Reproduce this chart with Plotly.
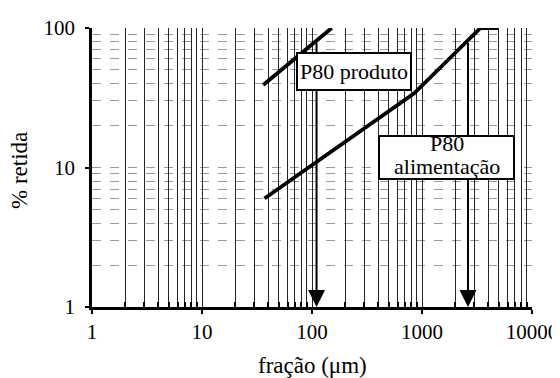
import math
import plotly.graph_objects as go

# ---- data ----
produto_x = [36, 151]          # fração (µm)
produto_y = [39, 100]          # % retida
alimentacao_x = [37, 850, 3400, 5000]
alimentacao_y = [6, 34, 100, 100]

p80_produto = 110
p80_alimentacao = 2620
p80_level = 80

x_major = [1, 10, 100, 1000, 10000]
x_major_text = ["1", "10", "100", "1000", "10000"]
y_major = [1, 10, 100]
y_major_text = ["1", "10", "100"]
x_minor = [m * d for d in (1, 10, 100, 1000) for m in range(2, 10)]
y_minor = [m * d for d in (1, 10) for m in range(2, 10)]

FONT = '"Liberation Serif", "Times New Roman", serif'

fig = go.Figure()
fig.add_trace(go.Scatter(x=produto_x, y=produto_y, mode="lines",
                         line=dict(color="black", width=3.8), showlegend=False))
fig.add_trace(go.Scatter(x=alimentacao_x, y=alimentacao_y, mode="lines",
                         line=dict(color="black", width=3.8), showlegend=False))

L = math.log10
annotations = []
for px in (p80_produto, p80_alimentacao):
    annotations.append(dict(
        x=L(px), y=L(1), ax=L(px), ay=L(p80_level),
        xref="x", yref="y", axref="x", ayref="y",
        text="", showarrow=True, arrowhead=2, arrowsize=1.7,
        arrowwidth=2, arrowcolor="black", standoff=0))

# "P80 produto" label box
annotations.append(dict(
    x=L(243), y=L(48.5), xref="x", yref="y", text="P80 produto",
    showarrow=False, bgcolor="white", bordercolor="black", borderwidth=2,
    borderpad=0, width=112, height=35,
    font=dict(family=FONT, size=22, color="black")))

# "P80 / alimentação" label box (frame + two tightly spaced lines)
box2_x, box2_y = L(1670), L(11.8)
annotations.append(dict(
    x=box2_x, y=box2_y, xref="x", yref="y", text=" ",
    showarrow=False, bgcolor="white", bordercolor="black", borderwidth=2,
    borderpad=0, width=133, height=41,
    font=dict(family=FONT, size=22, color="black")))
annotations.append(dict(
    x=box2_x, y=box2_y, xref="x", yref="y", text="P80", yshift=14,
    showarrow=False, font=dict(family=FONT, size=22, color="black")))
annotations.append(dict(
    x=box2_x, y=box2_y, xref="x", yref="y", text="alimentação", yshift=-9,
    showarrow=False, font=dict(family=FONT, size=22, color="black")))

# axis titles
annotations.append(dict(
    x=0.5, y=0, xref="paper", yref="paper", xanchor="center", yanchor="middle",
    yshift=-58, text="fração (μm)", showarrow=False,
    font=dict(family=FONT, size=23, color="black")))
annotations.append(dict(
    x=0, y=0.4875, xref="paper", yref="paper", xanchor="center", yanchor="middle",
    xshift=-72, text="% retida", textangle=-90, showarrow=False,
    font=dict(family=FONT, size=23, color="black")))

# The page body has an 8px margin, so the figure is 8px smaller and margins are shifted.
fig.update_layout(
    width=552, height=370,
    margin=dict(l=84, r=28, t=20, b=71),
    paper_bgcolor="white", plot_bgcolor="white",
    font=dict(family=FONT, size=21, color="black"),
    annotations=annotations,
    xaxis=dict(
        type="log", range=[0, 4], automargin=False,
        tickmode="array", tickvals=x_major, ticktext=x_major_text,
        ticks="outside", ticklen=4, tickwidth=1.5, tickcolor="black",
        ticklabelstandoff=0, tickfont=dict(family=FONT, size=21),
        showline=True, linecolor="black", linewidth=2.5,
        showgrid=True, gridcolor="rgba(0,0,0,0.85)", gridwidth=1.2,
        zeroline=False,
        minor=dict(tickmode="array", tickvals=x_minor, showgrid=True,
                   gridcolor="rgba(0,0,0,0.85)", gridwidth=1.2,
                   ticks="inside", ticklen=5, tickcolor="black"),
    ),
    yaxis=dict(
        type="log", range=[0, 2], automargin=False,
        tickmode="array", tickvals=y_major, ticktext=y_major_text,
        ticks="outside", ticklen=4, tickwidth=1.5, tickcolor="black",
        ticklabelstandoff=6, tickfont=dict(family=FONT, size=21),
        showline=True, linecolor="black", linewidth=2.5,
        showgrid=True, gridcolor="rgba(0,0,0,0.4)", gridwidth=1, griddash="dash",
        zeroline=False,
        minor=dict(tickmode="array", tickvals=y_minor, showgrid=True,
                   gridcolor="rgba(0,0,0,0.4)", gridwidth=1, griddash="dash",
                   ticks=""),
    ),
)

fig.write_html("out.html")
